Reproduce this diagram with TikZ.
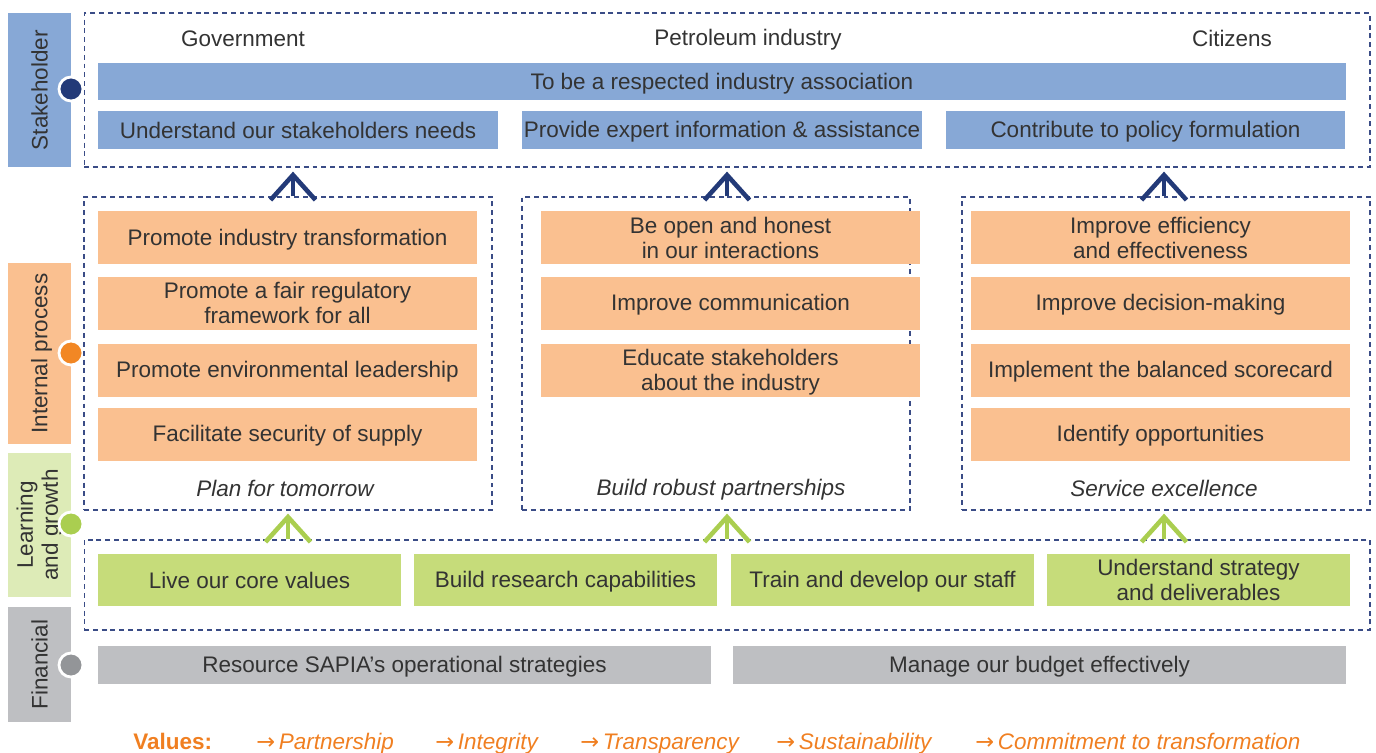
\documentclass[tikz,border=0pt]{standalone}
\usepackage{fontspec}
\setmainfont{Liberation Sans}
\newfontfamily\arrowfont{DejaVu Sans}
\usetikzlibrary{arrows.meta, calc}
\definecolor{bscblue}{RGB}{135,168,214}
\definecolor{bscnavy}{RGB}{35,58,120}
\definecolor{bscdash}{RGB}{58,76,134}
\definecolor{bscorange}{RGB}{250,192,144}
\definecolor{bscdotor}{RGB}{242,135,36}
\definecolor{bscgreen}{RGB}{198,220,122}
\definecolor{bsclgreen}{RGB}{221,235,183}
\definecolor{bscdotgr}{RGB}{170,206,80}
\definecolor{bscgrey}{RGB}{190,191,194}
\definecolor{bscdotgy}{RGB}{147,149,152}
\definecolor{bsctext}{RGB}{51,51,51}
\definecolor{bscvalue}{RGB}{240,127,33}
\newcommand{\bscstrut}{\rule[-2.5pt]{0pt}{14.2pt}}
\newcommand{\bsctwo}[2]{\raisebox{0pt}[25.9pt][2.5pt]{\begin{tabular}[b]{@{}c@{}}#1\\#2\end{tabular}}}

\begin{document}
\begin{tikzpicture}[x=0.02cm, y=-0.02cm,
		every node/.style={font=\fontsize{12.8}{14.2}\selectfont, text=bsctext, inner sep=0pt, align=center},
		txt/.style={execute at begin node=\bscstrut, execute at end node=\bscstrut},
		lbl/.style={txt, rotate=90, minimum height=1.26cm},
		dashbox/.style={draw=bscdash, dash pattern=on 2.8pt off 2.2pt, line width=0.7pt},
		sbox/.style={txt, fill=bscblue, minimum height=0.76cm},
		ibox/.style={txt, fill=bscorange, minimum width=7.58cm, minimum height=1.06cm},
		lbox/.style={txt, fill=bscgreen, minimum width=6.06cm, minimum height=1.04cm},
		fbox/.style={txt, fill=bscgrey, minimum width=12.26cm, minimum height=0.76cm},
		dot/.style={circle, draw=white, line width=1.6pt, minimum size=0.48cm},
		theme/.style={txt, font=\fontsize{12.8}{14.2}\selectfont\itshape},
		uparrow/.style={line width=2.6pt, -{Straight Barb[length=0.5cm, width=0.9cm]}},
		val/.style={anchor=base west, text=bscvalue, font=\fontsize{12.8}{14.2}\selectfont\itshape}]
		\useasboundingbox (0,0) rectangle (1376,752);
		
		% perspectives
		\node[lbl, fill=bscblue, minimum width=3.08cm] (l1) at (39.5,90) {Stakeholder};
		\node[lbl, fill=bscorange, minimum width=3.62cm] (l2) at (39.5,353.5) {Internal process};
		\node[lbl, fill=bsclgreen, minimum width=2.88cm] (l3) at (39.5,525) {Learning\\and growth};
		\node[lbl, fill=bscgrey, minimum width=2.3cm] (l4) at (39.5,664.5) {Financial};
		
		\node[dot, fill=bscnavy] (d1) at (71,89) {};
		\node[dot, fill=bscdotor] (d2) at (71,353) {};
		\node[dot, fill=bscdotgr] (d3) at (71,524) {};
		\node[dot, fill=bscdotgy] (d4) at (71,665) {};
		
		% frames
		\node[dashbox, minimum width=25.72cm, minimum height=3.08cm] (stake) at (727,90) {};
		\node[dashbox, minimum width=8.16cm, minimum height=6.26cm] (pa) at (288,353.5) {};
		\node[dashbox, minimum width=7.76cm, minimum height=6.26cm] (pb) at (716,353.5) {};
		\node[dashbox, minimum width=8.16cm, minimum height=6.26cm] (pc) at (1166,353.5) {};
		\node[dashbox, minimum width=25.72cm, minimum height=1.8cm] (learn) at (727,585) {};
		
		% stakeholder
		\node[txt] (h1) at (243,38) {Government};
		\node[txt] (h2) at (748,38) {Petroleum industry};
		\node[txt] (h3) at (1232,38) {Citizens};
		\node[sbox, minimum width=24.96cm, minimum height=0.74cm] (s0) at (722,81.5) {To be a respected industry association};
		\node[sbox, minimum width=8cm] (s1) at (298,130) {Understand our stakeholders needs};
		\node[sbox, minimum width=8cm] (s2) at (722,130) {Provide expert information \& assistance};
		\node[sbox, minimum width=8cm] (s3) at (1145.5,130) {Contribute to policy formulation};
		
		% internal process
		\node[ibox] (i1) at (287.5,237.5) {Promote industry transformation};
		\node[ibox] (i2) at (287.5,303) {\bsctwo{Promote a fair regulatory}{framework for all}};
		\node[ibox] (i3) at (287.5,370) {Promote environmental leadership};
		\node[ibox] (i4) at (287.5,434) {Facilitate security of supply};
		\node[ibox] (i5) at (730.5,237.5) {\bsctwo{Be open and honest}{in our interactions}};
		\node[ibox] (i6) at (730.5,303) {Improve communication};
		\node[ibox] (i7) at (730.5,370) {\bsctwo{Educate stakeholders}{about the industry}};
		\node[ibox] (i8) at (1160.5,237.5) {\bsctwo{Improve efficiency}{and effectiveness}};
		\node[ibox] (i9) at (1160.5,303) {Improve decision-making};
		\node[ibox] (i10) at (1160.5,370) {Implement the balanced scorecard};
		\node[ibox] (i11) at (1160.5,434) {Identify opportunities};
		
		\node[theme] (ta) at (285,488) {Plan for tomorrow};
		\node[theme] (tb) at (721,488) {Build robust partnerships};
		\node[theme] (tc) at (1164,488) {Service excellence};
		
		% learning and growth
		\node[lbox] (g1) at (249.5,580) {Live our core values};
		\node[lbox] (g2) at (565.5,580) {Build research capabilities};
		\node[lbox] (g3) at (882.5,580) {Train and develop our staff};
		\node[lbox] (g4) at (1198.5,580) {\bsctwo{Understand strategy}{and deliverables}};
		
		% financial
		\node[fbox] (f1) at (404.5,665) {Resource SAPIA’s operational strategies};
		\node[fbox] (f2) at (1039.5,665) {Manage our budget effectively};
		
		% arrows
		\draw[uparrow, draw=bscnavy] ($(pa.north)+(5,0)$) -- ($(pa.north |- stake.south)+(5,4)$);
		\draw[uparrow, draw=bscnavy] ($(pb.north)+(11,0)$) -- ($(pb.north |- stake.south)+(11,4)$);
		\draw[uparrow, draw=bscnavy] ($(pc.north)+(-2,0)$) -- ($(pc.north |- stake.south)+(-2,4)$);
		\draw[uparrow, draw=bscdotgr] (pa.south |- learn.north) -- ($(pa.south)+(0,3)$);
		\draw[uparrow, draw=bscdotgr] ($(pb.south |- learn.north)+(11,0)$) -- ($(pb.south)+(11,3)$);
		\draw[uparrow, draw=bscdotgr] ($(pc.south |- learn.north)+(-2,0)$) -- ($(pc.south)+(-2,3)$);
		
		% values
		\node[anchor=base west, text=bscvalue, font=\fontsize{12.8}{14.2}\selectfont\bfseries] (v0) at (133,749) {Values:};
		\node[val] (v1) at (256,749) {{\arrowfont →}\,Partnership};
		\node[val] (v2) at (435,749) {{\arrowfont →}\,Integrity};
		\node[val] (v3) at (580,749) {{\arrowfont →}\,Transparency};
		\node[val] (v4) at (776,749) {{\arrowfont →}\,Sustainability};
		\node[val] (v5) at (975,749) {{\arrowfont →}\,Commitment to transformation};
\end{tikzpicture}
\end{document}
